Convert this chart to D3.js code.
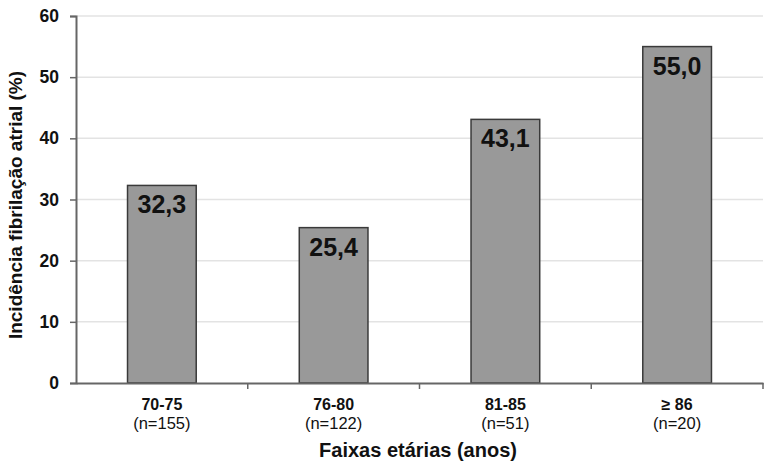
<!DOCTYPE html>
<html><head><meta charset="utf-8">
<script src="https://cdn.jsdelivr.net/npm/d3@7"></script>
<style>body{margin:0;background:#fff}text{font-family:Arial,"Liberation Sans",sans-serif}</style>
</head><body>
<svg id="c" width="771" height="470"></svg>
<script>
const categories = ["70-75","76-80","81-85","≥ 86"];
const sampleSizes = ["(n=155)","(n=122)","(n=51)","(n=20)"];
const values = [32.3, 25.4, 43.1, 55.0];
const valueLabels = ["32,3","25,4","43,1","55,0"];
const yTicks = [0,10,20,30,40,50,60];

const svg = d3.select("#c");
const m = {l:76, r:8, t:16, b:87};
const W = 771, H = 470;
const x = d3.scaleBand().domain(categories).range([m.l, W-m.r]).paddingInner(0).paddingOuter(0);
const y = d3.scaleLinear().domain([0,60]).range([H-m.b, m.t]);

// gridlines
svg.append("g").selectAll("line").data(yTicks.filter(d=>d>0)).join("line")
  .attr("x1", m.l).attr("x2", W-m.r).attr("y1", d=>y(d)).attr("y2", d=>y(d))
  .attr("stroke","#e3e3e3").attr("stroke-width",1.5);

// bars
const bw = x.bandwidth()*0.4;
svg.append("g").selectAll("rect").data(values).join("rect")
  .attr("x",(d,i)=>x(categories[i])+x.bandwidth()/2-bw/2)
  .attr("width",bw)
  .attr("y",d=>y(d)).attr("height",d=>y(0)-y(d))
  .attr("fill","#999").attr("stroke","#3a3a3a").attr("stroke-width",1.5);

svg.append("g").selectAll("text").data(values).join("text")
  .attr("x",(d,i)=>x(categories[i])+x.bandwidth()/2)
  .attr("y",d=>y(d)+28)
  .attr("text-anchor","middle").attr("font-weight","bold").attr("font-size",25)
  .attr("fill","#111").text((d,i)=>valueLabels[i]);

// y axis
const ya = svg.append("g").attr("transform",`translate(${m.l},0)`)
  .call(d3.axisLeft(y).tickValues(yTicks).tickSize(6).tickPadding(11));
ya.select(".domain").attr("stroke","#666").attr("stroke-width",2);
ya.selectAll(".tick line").attr("stroke","#666").attr("stroke-width",1.5);
ya.selectAll(".tick text").attr("font-size",17.5).attr("font-weight","bold").attr("fill","#111")
  .style("font-family","Arial, 'Liberation Sans', sans-serif");

// x axis
const xa = svg.append("g").attr("transform",`translate(0,${y(0)})`)
  .call(d3.axisBottom(x).tickSize(0).tickFormat(""));
xa.select(".domain").attr("stroke","#666").attr("stroke-width",2);
const bounds = x.domain().map(c=>x(c)).concat([W-m.r]);
xa.selectAll(".btick").data(bounds.slice(1)).join("line")
  .attr("x1",d=>d).attr("x2",d=>d).attr("y1",0).attr("y2",6)
  .attr("stroke","#666").attr("stroke-width",1.5);

svg.append("g").selectAll("text").data(categories).join("text")
  .attr("x",d=>x(d)+x.bandwidth()/2).attr("y",y(0)+27)
  .attr("text-anchor","middle").attr("font-weight","bold").attr("font-size",16).attr("fill","#111")
  .text(d=>d);
svg.append("g").selectAll("text").data(sampleSizes).join("text")
  .attr("x",(d,i)=>x(categories[i])+x.bandwidth()/2).attr("y",y(0)+46)
  .attr("text-anchor","middle").attr("font-size",16.5).attr("fill","#111")
  .text(d=>d);

svg.append("text").attr("x",418).attr("y",457).attr("text-anchor","middle")
  .attr("font-weight","bold").attr("font-size",20).attr("fill","#111")
  .text("Faixas etárias (anos)");

svg.append("text").attr("transform","translate(22,205) rotate(-90)").attr("text-anchor","middle")
  .attr("font-weight","bold").attr("font-size",19).attr("fill","#111")
  .text("Incidência fibrilação atrial  (%)");
</script>
</body></html>
